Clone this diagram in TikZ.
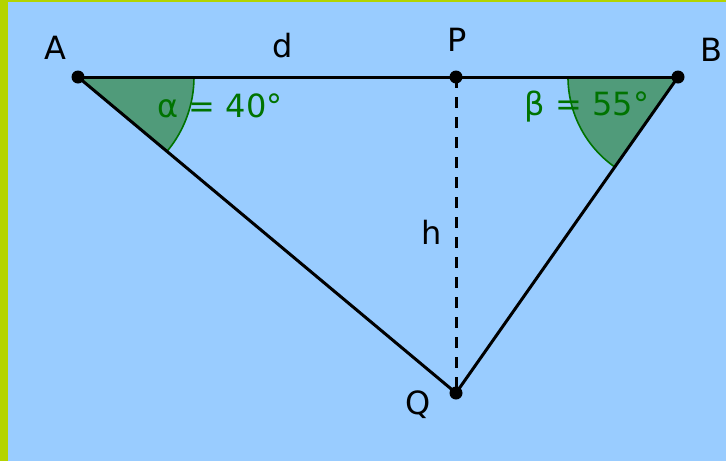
\documentclass[tikz,border=0pt]{standalone}
\usepackage{fontspec}
\setmainfont{DejaVu Sans}
\definecolor{skyblue}{RGB}{153,204,255}
\definecolor{limeedge}{RGB}{180,212,0}
\definecolor{anglefill}{RGB}{80,155,122}
\definecolor{anglegreen}{RGB}{0,115,0}
\tikzset{every picture/.style={line width=2.25pt}}
\tikzset{
  side/.style={draw=black,line width=2.25pt},
  heightline/.style={draw=black,line width=2.25pt,dash pattern=on 8.5pt off 6.5pt},
  vertexdot/.style={fill=black},
  anglepatch/.style={fill=anglefill,draw=none},
  anglearc/.style={draw=anglegreen,line width=1.2pt},
  lbl/.style={font=\fontsize{24}{29}\selectfont,text=black,inner sep=0pt},
  anglelbl/.style={font=\fontsize{24}{29}\selectfont,text=anglegreen,inner sep=0pt}
}
\begin{document}
\begin{tikzpicture}[x=0.75pt,y=0.75pt,yscale=-1]
%Background
\fill [skyblue] (0,0) rectangle (726,461);
\fill [limeedge] (0,0) rectangle (8,461);
\fill [limeedge] (0,0) rectangle (726,2);
\useasboundingbox (0,0) rectangle (726,461);

%Points
\coordinate (A) at (78,77);
\coordinate (P) at (456,77);
\coordinate (B) at (678,77);
\coordinate (Q) at (456,393);

%Angle patches
\path [anglepatch] (A) -- ++(0:116) arc (0:39.9:116) -- cycle;
\path [anglepatch] (B) -- ++(180:110) arc (180:125.1:110) -- cycle;
\draw [anglearc] (A) ++(0:116) arc (0:39.9:116);
\draw [anglearc] (B) ++(180:110) arc (180:125.1:110);

%Straight Lines
\draw [side] (A) -- (B);
\draw [side] (A) -- (Q);
\draw [side] (B) -- (Q);
\draw [heightline] (P) -- (Q);

%Dots
\foreach \pt in {A,P,B,Q}
  \fill [vertexdot] (\pt) circle [radius=6.5];

% Text Node
\node [lbl] (lblA) at (55,48) {A};
% Text Node
\node [lbl] (lblP) at (457,40) {P};
% Text Node
\node [lbl] (lblB) at (711,50) {B};
% Text Node
\node [lbl] (lblQ) at (418,405) {Q};
% Text Node
\node [lbl] (lbld) at (283,46) {d};
% Text Node
\node [lbl] (lblh) at (432,232) {h};
% Text Node
\node [anglelbl] (lblalpha) at (220,106) {α = 40°};
% Text Node
\node [anglelbl] (lblbeta) at (587,107) {β = 55°};

\end{tikzpicture}
\end{document}
